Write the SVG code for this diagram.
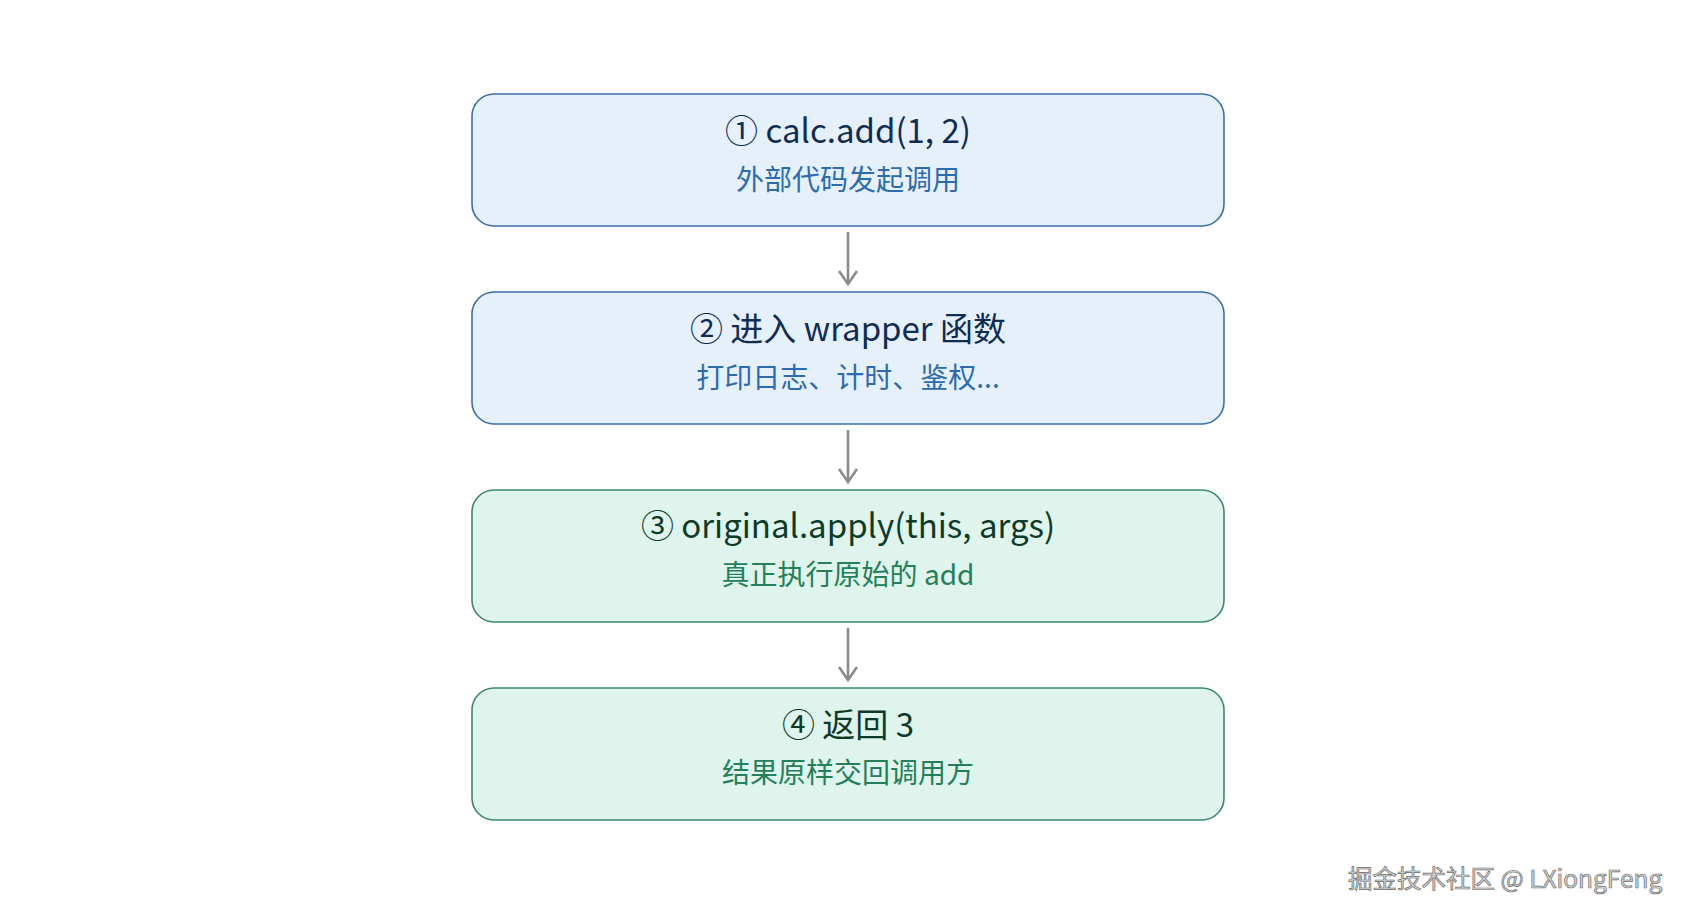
<svg xmlns="http://www.w3.org/2000/svg" width="1696" height="918" viewBox="0 0 1696 918">
<defs>
<style>
.box-b{fill:#e6f0fb;stroke:#3b6fa6;stroke-width:1.6}
.box-g{fill:#def4ec;stroke:#3a8a69;stroke-width:1.6}
.t{font-family:"Noto Sans CJK SC","Liberation Sans",sans-serif;text-anchor:middle}
.title{font-size:33px}
.sub{font-size:28px}
.tb{fill:#0f2d52}
.sb{fill:#2c6bb0}
.tg{fill:#0e3a2a}
.sg{fill:#23805a}
.conn{stroke:#8a8a8a;stroke-width:2.6;fill:none;marker-end:url(#arr)}
.wm{font-family:"Noto Sans CJK SC","Liberation Sans",sans-serif;font-size:24.5px;fill:#d6d6d6;stroke:#6e6e6e;stroke-width:0.7}
</style>
<marker id="arr" viewBox="0 0 20 20" refX="16" refY="10" markerWidth="20" markerHeight="20" markerUnits="userSpaceOnUse" orient="auto">
<path d="M3,1 L16,10 L3,19" fill="none" stroke="#8a8a8a" stroke-width="2.6"/>
</marker>
</defs>
<rect width="1696" height="918" fill="#ffffff"/>
<g id="connectors">
<path class="conn" d="M848,232 V284"/>
<path class="conn" d="M848,430 V482"/>
<path class="conn" d="M848,628 V680"/>
</g>
<g id="node1">
<rect class="box-b" x="472" y="94" width="752" height="132" rx="22"/>
<text class="t title tb" x="848" y="143">① calc.add(1, 2)</text>
<text class="t sub sb" x="848" y="190">外部代码发起调用</text>
</g>
<g id="node2">
<rect class="box-b" x="472" y="292" width="752" height="132" rx="22"/>
<text class="t title tb" x="848" y="341">② 进入 wrapper 函数</text>
<text class="t sub sb" x="848" y="388">打印日志、计时、鉴权...</text>
</g>
<g id="node3">
<rect class="box-g" x="472" y="490" width="752" height="132" rx="22"/>
<text class="t title tg" x="848" y="538">③ original.apply(this, args)</text>
<text class="t sub sg" x="848" y="585">真正执行原始的 add</text>
</g>
<g id="node4">
<rect class="box-g" x="472" y="688" width="752" height="132" rx="22"/>
<text class="t title tg" x="848" y="737">④ 返回 3</text>
<text class="t sub sg" x="848" y="783">结果原样交回调用方</text>
</g>
<text class="wm" x="1348" y="888">掘金技术社区 @ LXiongFeng</text>
</svg>
